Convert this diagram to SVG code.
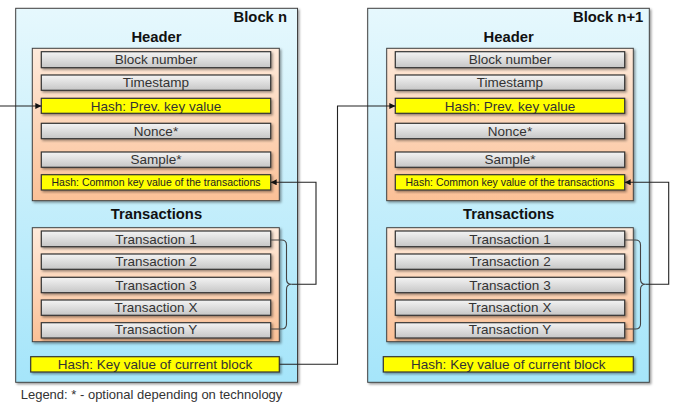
<svg xmlns="http://www.w3.org/2000/svg" width="674" height="406" viewBox="0 0 674 406">
<style>
.blk{fill:url(#gBlue);stroke:#404040;stroke-width:1}
.pnl{fill:url(#gOrange);stroke:#404040;stroke-width:1}
.bar{fill:url(#gGray);stroke:#333;stroke-width:1.2}
.ylw{fill:#ffff00;stroke:#333;stroke-width:1.2}
.t{font-family:"Liberation Sans",Arial,sans-serif;font-size:13.5px;fill:#333;text-anchor:middle}
.ts{font-family:"Liberation Sans",Arial,sans-serif;font-size:10.5px;fill:#222;text-anchor:middle}
.h{font-family:"Liberation Sans",Arial,sans-serif;font-size:14.8px;font-weight:bold;fill:#111;text-anchor:middle}
.bt{font-family:"Liberation Sans",Arial,sans-serif;font-size:14.8px;font-weight:bold;fill:#111;text-anchor:end}
.lg{font-family:"Liberation Sans",Arial,sans-serif;font-size:13px;fill:#333}
.ln{fill:none;stroke:#222;stroke-width:1.1}
.br{fill:none;stroke:#444;stroke-width:1.1}
</style>
<defs>
<linearGradient id="gBlue" x1="0" y1="0" x2="0" y2="1"><stop offset="0" stop-color="#e6f8fd"/><stop offset="1" stop-color="#a5e5fa"/></linearGradient>
<linearGradient id="gOrange" x1="0" y1="0" x2="0" y2="1"><stop offset="0" stop-color="#feeadb"/><stop offset="1" stop-color="#fbc096"/></linearGradient>
<linearGradient id="gGray" x1="0" y1="0" x2="0" y2="1"><stop offset="0" stop-color="#f4f4f4"/><stop offset="1" stop-color="#c6c6c6"/></linearGradient>
<filter id="sh" x="-5%" y="-5%" width="115%" height="130%"><feDropShadow dx="1.5" dy="1.5" stdDeviation="0.8" flood-color="#000" flood-opacity="0.4"/></filter>
<marker id="arr" viewBox="0 0 6 6" refX="6" refY="3" markerWidth="6" markerHeight="6" markerUnits="userSpaceOnUse" orient="auto"><path d="M0,0 L6,3 L0,6 z" fill="#111"/></marker>
</defs>

<g id="block-n">
<rect class="blk" x="15.7" y="8.3" width="281.8" height="374" filter="url(#sh)"/>
<text class="bt" x="287" y="21.7">Block n</text>
<text class="h" x="156.5" y="41.7">Header</text>
<rect class="pnl" x="32.3" y="48.3" width="247" height="152.4" filter="url(#sh)"/>
<text class="h" x="156.5" y="219.3">Transactions</text>
<rect class="pnl" x="32.3" y="227.7" width="247" height="114" filter="url(#sh)"/>
</g>
<g id="n-block-number"><rect class="bar" x="41.3" y="51.7" width="229.4" height="16" filter="url(#sh)"/><text class="t" x="156" y="64.3">Block number</text></g>
<g id="n-timestamp"><rect class="bar" x="41.3" y="75" width="229.4" height="15.3" filter="url(#sh)"/><text class="t" x="156" y="87.3">Timestamp</text></g>
<g id="n-hash-prev"><rect class="ylw" x="41.3" y="98.3" width="229.4" height="15" filter="url(#sh)"/><text class="t" x="156" y="110.6">Hash: Prev. key value</text></g>
<g id="n-nonce"><rect class="bar" x="41.3" y="123.3" width="229.4" height="15.4" filter="url(#sh)"/><text class="t" x="156" y="135.7">Nonce*</text></g>
<g id="n-sample"><rect class="bar" x="41.3" y="152" width="229.4" height="15.3" filter="url(#sh)"/><text class="t" x="156" y="164.3">Sample*</text></g>
<g id="n-hash-common"><rect class="ylw" x="41.3" y="174.7" width="229.4" height="15.3" filter="url(#sh)"/><text class="ts" x="156" y="185.8">Hash: Common key value of the transactions</text></g>
<g id="n-tx1"><rect class="bar" x="41.3" y="231" width="229.4" height="15.7" filter="url(#sh)"/><text class="t" x="156" y="243.5">Transaction 1</text></g>
<g id="n-tx2"><rect class="bar" x="41.3" y="254" width="229.4" height="15.3" filter="url(#sh)"/><text class="t" x="156" y="266.3">Transaction 2</text></g>
<g id="n-tx3"><rect class="bar" x="41.3" y="277.3" width="229.4" height="15.4" filter="url(#sh)"/><text class="t" x="156" y="289.6">Transaction 3</text></g>
<g id="n-txx"><rect class="bar" x="41.3" y="300" width="229.4" height="15.3" filter="url(#sh)"/><text class="t" x="156" y="312.3">Transaction X</text></g>
<g id="n-txy"><rect class="bar" x="41.3" y="322.7" width="229.4" height="15.3" filter="url(#sh)"/><text class="t" x="156" y="334.3">Transaction Y</text></g>
<g id="n-hash-current"><rect class="ylw" x="30.7" y="356.7" width="248.6" height="15.3" filter="url(#sh)"/><text class="t" x="155" y="369">Hash: Key value of current block</text></g>

<g id="block-n1">
<rect class="blk" x="367.7" y="8.3" width="281.6" height="374" filter="url(#sh)"/>
<text class="bt" x="643.3" y="21.7">Block n+1</text>
<text class="h" x="508.7" y="41.7">Header</text>
<rect class="pnl" x="386.7" y="48.3" width="246.6" height="152.4" filter="url(#sh)"/>
<text class="h" x="508.7" y="219.3">Transactions</text>
<rect class="pnl" x="386.7" y="227.7" width="246.6" height="114" filter="url(#sh)"/>
</g>
<g id="n1-block-number"><rect class="bar" x="395.3" y="51.7" width="229.4" height="16" filter="url(#sh)"/><text class="t" x="510" y="64.3">Block number</text></g>
<g id="n1-timestamp"><rect class="bar" x="395.3" y="75" width="229.4" height="15.3" filter="url(#sh)"/><text class="t" x="510" y="87.3">Timestamp</text></g>
<g id="n1-hash-prev"><rect class="ylw" x="395.3" y="98.3" width="229.4" height="15" filter="url(#sh)"/><text class="t" x="510" y="110.6">Hash: Prev. key value</text></g>
<g id="n1-nonce"><rect class="bar" x="395.3" y="123.3" width="229.4" height="15.4" filter="url(#sh)"/><text class="t" x="510" y="135.7">Nonce*</text></g>
<g id="n1-sample"><rect class="bar" x="395.3" y="152" width="229.4" height="15.3" filter="url(#sh)"/><text class="t" x="510" y="164.3">Sample*</text></g>
<g id="n1-hash-common"><rect class="ylw" x="395.3" y="174.7" width="229.4" height="15.3" filter="url(#sh)"/><text class="ts" x="510" y="185.8">Hash: Common key value of the transactions</text></g>
<g id="n1-tx1"><rect class="bar" x="395.3" y="231" width="229.4" height="15.7" filter="url(#sh)"/><text class="t" x="510" y="243.5">Transaction 1</text></g>
<g id="n1-tx2"><rect class="bar" x="395.3" y="254" width="229.4" height="15.3" filter="url(#sh)"/><text class="t" x="510" y="266.3">Transaction 2</text></g>
<g id="n1-tx3"><rect class="bar" x="395.3" y="277.3" width="229.4" height="15.4" filter="url(#sh)"/><text class="t" x="510" y="289.6">Transaction 3</text></g>
<g id="n1-txx"><rect class="bar" x="395.3" y="300" width="229.4" height="15.3" filter="url(#sh)"/><text class="t" x="510" y="312.3">Transaction X</text></g>
<g id="n1-txy"><rect class="bar" x="395.3" y="322.7" width="229.4" height="15.3" filter="url(#sh)"/><text class="t" x="510" y="334.3">Transaction Y</text></g>
<g id="n1-hash-current"><rect class="ylw" x="383.3" y="356.7" width="250" height="15.3" filter="url(#sh)"/><text class="t" x="508.3" y="369">Hash: Key value of current block</text></g>

<g id="connectors">
<path class="ln" d="M0,106 H41.3" marker-end="url(#arr)"/>
<path class="ln" d="M279.3,364.3 H337.5 V106 H395.3" marker-end="url(#arr)"/>
<path class="br" d="M270.7,240 H281.5 Q286.5,240 286.5,245 V279 Q286.5,284.3 291.5,284.3 Q286.5,284.3 286.5,289.5 V324 Q286.5,329 281.5,329 H270.7"/>
<path class="ln" d="M291.5,284.3 H316 V182.3 H270.7" marker-end="url(#arr)"/>
<path class="br" d="M624.7,240 H635.5 Q640.5,240 640.5,245 V279 Q640.5,284.3 645.5,284.3 Q640.5,284.3 640.5,289.5 V324 Q640.5,329 635.5,329 H624.7"/>
<path class="ln" d="M645.5,284.3 H668.7 V182.3 H624.7" marker-end="url(#arr)"/>
</g>

<text class="lg" x="20.7" y="399.3">Legend: * - optional depending on technology</text>
</svg>
